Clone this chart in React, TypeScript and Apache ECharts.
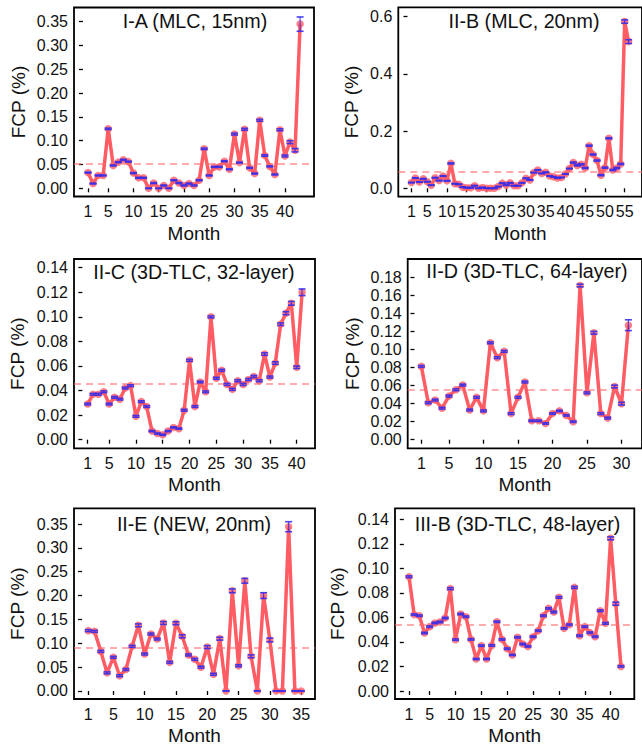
import React, { useEffect, useRef } from "react";
import * as echarts from "echarts";

// ---------------- data ----------------
const fcpIA = [0.033, 0.010, 0.027, 0.027, 0.125, 0.048, 0.055, 0.060, 0.056, 0.032,
  0.022, 0.022, 0.000, 0.011, 0.000, 0.006, 0.000, 0.017, 0.011, 0.006,
  0.010, 0.006, 0.017, 0.083, 0.027, 0.045, 0.045, 0.057, 0.040, 0.114,
  0.054, 0.124, 0.043, 0.031, 0.143, 0.069, 0.046, 0.029, 0.123, 0.068,
  0.097, 0.080, 0.345];
const errIA = [0.001, 0.001, 0.001, 0.001, 0.0015, 0.001, 0.001, 0.001, 0.001, 0.001,
  0.001, 0.001, 0.0005, 0.001, 0.0005, 0.001, 0.0005, 0.001, 0.001, 0.001,
  0.001, 0.001, 0.001, 0.0015, 0.001, 0.001, 0.001, 0.001, 0.001, 0.002,
  0.001, 0.002, 0.001, 0.001, 0.002, 0.0015, 0.001, 0.001, 0.002, 0.002,
  0.003, 0.0035, 0.015];
const meanIA = 0.0525;

const fcpIIB = [0.020, 0.036, 0.022, 0.033, 0.023, 0.011, 0.037, 0.027, 0.043, 0.026,
  0.087, 0.016, 0.014, 0.004, 0.002, 0.002, 0.009, 0.000, 0.003, 0.000,
  0.000, 0.000, 0.006, 0.018, 0.011, 0.019, 0.009, 0.009, 0.019, 0.035,
  0.029, 0.055, 0.064, 0.052, 0.056, 0.043, 0.040, 0.036, 0.038, 0.050,
  0.069, 0.090, 0.080, 0.084, 0.071, 0.149, 0.118, 0.097, 0.046, 0.072,
  0.175, 0.064, 0.071, 0.085, 0.583, 0.513];
const errIIB = [0.001, 0.001, 0.001, 0.001, 0.001, 0.001, 0.001, 0.001, 0.001, 0.001,
  0.002, 0.001, 0.001, 0.001, 0.001, 0.001, 0.001, 0.0005, 0.001, 0.0005,
  0.0005, 0.0005, 0.001, 0.001, 0.001, 0.001, 0.001, 0.001, 0.001, 0.001,
  0.001, 0.001, 0.001, 0.001, 0.001, 0.001, 0.001, 0.001, 0.001, 0.001,
  0.001, 0.002, 0.002, 0.002, 0.002, 0.002, 0.002, 0.002, 0.002, 0.002,
  0.002, 0.002, 0.002, 0.002, 0.006, 0.0065];
const meanIIB = 0.0594;

const fcpIIC = [0.029, 0.037, 0.037, 0.039, 0.029, 0.0345, 0.033, 0.042, 0.044, 0.019,
  0.031, 0.027, 0.007, 0.005, 0.004, 0.007, 0.010, 0.009, 0.024, 0.0646,
  0.027, 0.047, 0.039, 0.100, 0.050, 0.0565, 0.045, 0.041, 0.048, 0.045,
  0.049, 0.0515, 0.048, 0.0697, 0.051, 0.0624, 0.094, 0.103, 0.111, 0.059,
  0.120];
const errIIC = [0.0007, 0.0007, 0.0007, 0.0007, 0.0007, 0.0007, 0.0007, 0.0007, 0.0007, 0.0007,
  0.0007, 0.0007, 0.0005, 0.0005, 0.0005, 0.0005, 0.0005, 0.0005, 0.0007, 0.0008,
  0.0007, 0.0007, 0.0007, 0.0008, 0.0008, 0.0008, 0.0008, 0.0008, 0.0008, 0.0008,
  0.0008, 0.0008, 0.0008, 0.001, 0.0008, 0.001, 0.001, 0.0012, 0.0015, 0.001,
  0.0027];
const meanIIC = 0.0453;

const fcpIID = [0.0813, 0.041, 0.044, 0.035, 0.0484, 0.0554, 0.0606, 0.033, 0.047, 0.032,
  0.1075, 0.091, 0.098, 0.029, 0.047, 0.064, 0.021, 0.021, 0.018, 0.029,
  0.032, 0.027, 0.020, 0.171, 0.052, 0.1186, 0.029, 0.024, 0.059, 0.040,
  0.127];
const errIID = [0.001, 0.001, 0.001, 0.001, 0.001, 0.001, 0.001, 0.001, 0.001, 0.001,
  0.001, 0.001, 0.001, 0.001, 0.001, 0.001, 0.0008, 0.0008, 0.0008, 0.0008,
  0.0008, 0.0008, 0.0008, 0.0015, 0.001, 0.0015, 0.001, 0.001, 0.0015, 0.0015,
  0.006];
const meanIID = 0.0554;

const fcpIIE = [0.1265, 0.125, 0.083, 0.038, 0.0706, 0.032, 0.045, 0.0936, 0.1376, 0.0775,
  0.1195, 0.109, 0.1425, 0.060, 0.142, 0.1146, 0.0755, 0.0664, 0.050, 0.092,
  0.035, 0.1097, 0.000, 0.210, 0.053, 0.231, 0.0727, 0.000, 0.200, 0.107,
  0.000, 0.000, 0.3444, 0.000, 0.000];
const errIIE = [0.002, 0.002, 0.002, 0.002, 0.002, 0.002, 0.002, 0.002, 0.003, 0.002,
  0.002, 0.002, 0.003, 0.002, 0.003, 0.003, 0.002, 0.002, 0.002, 0.003,
  0.002, 0.003, 0.000, 0.004, 0.002, 0.005, 0.003, 0.000, 0.006, 0.004,
  0.000, 0.000, 0.0105, 0.000, 0.000];
const meanIIE = 0.0908;

const fcpIIIB = [0.0932, 0.0623, 0.0614, 0.0473, 0.0525, 0.0555, 0.0563, 0.0595, 0.0835, 0.0419,
  0.0628, 0.0606, 0.0421, 0.0261, 0.037, 0.0261, 0.0372, 0.0565, 0.0421, 0.0345,
  0.0294, 0.0438, 0.0383, 0.0364, 0.0443, 0.0492, 0.0614, 0.0674, 0.0644, 0.0764,
  0.0511, 0.0541, 0.0845, 0.0451, 0.0525, 0.0476, 0.0443, 0.0655, 0.0552, 0.1245,
  0.0712, 0.0201];
const errIIIB = [0.0007, 0.0006, 0.0006, 0.0006, 0.0006, 0.0006, 0.0006, 0.0006, 0.0008, 0.0006,
  0.0006, 0.0006, 0.0006, 0.0005, 0.0006, 0.0005, 0.0006, 0.0006, 0.0006, 0.0006,
  0.0005, 0.0006, 0.0006, 0.0006, 0.0006, 0.0006, 0.0006, 0.0006, 0.0007, 0.0007,
  0.0006, 0.0006, 0.0008, 0.0006, 0.0006, 0.0006, 0.0006, 0.0007, 0.0007, 0.0012,
  0.0012, 0.0006];
const meanIIIB = 0.0538;

const titles = [
  "I-A (MLC, 15nm)",
  "II-B (MLC, 20nm)",
  "II-C (3D-TLC, 32-layer)",
  "II-D (3D-TLC, 64-layer)",
  "II-E (NEW, 20nm)",
  "III-B (3D-TLC, 48-layer)",
];

const xTicksIA = [1, 5, 10, 15, 20, 25, 30, 35, 40];
const xTicksIIB = [1, 5, 10, 15, 20, 25, 30, 35, 40, 45, 50, 55];
const xTicksIIC = [1, 5, 10, 15, 20, 25, 30, 35, 40];
const xTicksIID = [1, 5, 10, 15, 20, 25, 30];
const xTicksIIE = [1, 5, 10, 15, 20, 25, 30, 35];
const xTicksIIIB = [1, 5, 10, 15, 20, 25, 30, 35, 40];

const yTicks035 = [0, 0.05, 0.1, 0.15, 0.2, 0.25, 0.3, 0.35];
const yTicks06 = [0, 0.2, 0.4, 0.6];
const yTicks014 = [0, 0.02, 0.04, 0.06, 0.08, 0.1, 0.12, 0.14];
const yTicks018 = [0, 0.02, 0.04, 0.06, 0.08, 0.1, 0.12, 0.14, 0.16, 0.18];

// ---------------- styling ----------------
const FONT = '"Liberation Sans", Arial, Helvetica, sans-serif';
const LINE_COLOR = "#ff5c64";
const POINT_COLOR = "rgba(255,95,105,0.8)";
const ERR_COLOR = "rgba(55,45,235,0.9)";
const MEAN_COLOR = "rgba(255,105,110,0.75)";

type Panel = {
  title: string;
  values: number[];
  errs: number[];
  mean: number;
  xTicks: number[];
  yTicks: number[];
  yDec: number;
  box: { left: number; top: number; width: number; height: number };
  xr: [number, number];
  yr: [number, number];
  titlePos: [number, number];
  yNameGap: number;
};

const panels: Panel[] = [
  {
    title: titles[0], values: fcpIA, errs: errIA, mean: meanIA,
    xTicks: xTicksIA, yTicks: yTicks035, yDec: 2,
    box: { left: 74, top: 7.5, width: 240, height: 189 },
    xr: [-1.772, 45.75], yr: [-0.0172, 0.3799],
    titlePos: [195, 21], yNameGap: 46,
  },
  {
    title: titles[1], values: fcpIIB, errs: errIIB, mean: meanIIB,
    xTicks: xTicksIIB, yTicks: yTicks06, yDec: 1,
    box: { left: 398.3, top: 7.3, width: 248.7, height: 189.4 },
    xr: [-2.325, 59.39], yr: [-0.0294, 0.6329],
    titlePos: [524, 21], yNameGap: 37,
  },
  {
    title: titles[2], values: fcpIIC, errs: errIIC, mean: meanIIC,
    xTicks: xTicksIIC, yTicks: yTicks014, yDec: 2,
    box: { left: 74, top: 259, width: 241, height: 189.3 },
    xr: [-1.556, 43.41], yr: [-0.007, 0.1471],
    titlePos: [194, 271.5], yNameGap: 47,
  },
  {
    title: titles[3], values: fcpIID, errs: errIID, mean: meanIID,
    xTicks: xTicksIID, yTicks: yTicks018, yDec: 2,
    box: { left: 407.7, top: 259, width: 240, height: 189.3 },
    xr: [-0.98, 32.97], yr: [-0.0095, 0.2004],
    titlePos: [527, 271], yNameGap: 46,
  },
  {
    title: titles[4], values: fcpIIE, errs: errIIE, mean: meanIIE,
    xTicks: xTicksIIE, yTicks: yTicks035, yDec: 2,
    box: { left: 74, top: 508.3, width: 241, height: 190.7 },
    xr: [-1.284, 37.21], yr: [-0.0168, 0.383],
    titlePos: [194, 524], yNameGap: 47,
  },
  {
    title: titles[5], values: fcpIIIB, errs: errIIIB, mean: meanIIIB,
    xTicks: xTicksIIIB, yTicks: yTicks014, yDec: 2,
    box: { left: 395, top: 508.3, width: 239.3, height: 190.7 },
    xr: [-1.708, 44.58], yr: [-0.0065, 0.149],
    titlePos: [517.5, 523.5], yNameGap: 48,
  },
];

function buildOption() {
  const grid: any[] = [];
  const xAxis: any[] = [];
  const yAxis: any[] = [];
  const series: any[] = [];
  const graphic: any[] = [];

  panels.forEach((p, i) => {
    grid.push({
      left: p.box.left, top: p.box.top, width: p.box.width, height: p.box.height,
      show: true, borderColor: "#000", borderWidth: 1.8, backgroundColor: "transparent",
      containLabel: false,
    });
    xAxis.push({
      gridIndex: i, type: "value", min: p.xr[0], max: p.xr[1],
      axisLine: { show: false },
      splitLine: { show: false },
      axisTick: { show: true, length: 4, lineStyle: { color: "#000", width: 1.3 }, customValues: p.xTicks },
      axisLabel: { customValues: p.xTicks, color: "#111", fontSize: 16, fontFamily: FONT, margin: 7 },
      name: "Month", nameLocation: "middle", nameGap: 27,
      nameTextStyle: { color: "#111", fontSize: 19, fontFamily: FONT },
    });
    yAxis.push({
      gridIndex: i, type: "value", min: p.yr[0], max: p.yr[1],
      axisLine: { show: false },
      splitLine: { show: false },
      axisTick: { show: true, length: 4, lineStyle: { color: "#000", width: 1.3 }, customValues: p.yTicks },
      axisLabel: {
        customValues: p.yTicks, color: "#111", fontSize: 16, fontFamily: FONT, margin: 6,
        formatter: (v: number) => v.toFixed(p.yDec),
      },
      name: "FCP (%)", nameLocation: "middle", nameGap: p.yNameGap, nameRotate: 90,
      nameTextStyle: { color: "#111", fontSize: 19, fontFamily: FONT },
    });
    series.push({
      type: "line", xAxisIndex: i, yAxisIndex: i,
      data: p.values.map((v, k) => [k + 1, v]),
      lineStyle: { color: LINE_COLOR, width: 3.5 },
      showSymbol: true, symbol: "circle", symbolSize: 7.5,
      itemStyle: { color: POINT_COLOR, borderWidth: 0 },
      z: 3,
      markLine: {
        silent: true, symbol: ["none", "none"], label: { show: false },
        precision: 6,
        lineStyle: { color: MEAN_COLOR, type: [7, 5], width: 1.6 },
        data: [{ yAxis: p.mean }],
        animation: false,
      },
    });
    series.push({
      type: "custom", xAxisIndex: i, yAxisIndex: i,
      data: p.values.map((v, k) => [k + 1, v - p.errs[k], v + p.errs[k]]),
      encode: { x: 0, y: [1, 2] },
      z: 5,
      renderItem: (params: any, api: any) => {
        const x = api.value(0);
        const lo = api.coord([x, api.value(1)]);
        const hi = api.coord([x, api.value(2)]);
        const hw = 3.5;
        const st = { stroke: ERR_COLOR, lineWidth: 1.6 };
        return {
          type: "group",
          children: [
            { type: "line", shape: { x1: lo[0], y1: lo[1], x2: hi[0], y2: hi[1] }, style: { stroke: ERR_COLOR, lineWidth: 1.1 } },
            { type: "line", shape: { x1: lo[0] - hw, y1: lo[1], x2: lo[0] + hw, y2: lo[1] }, style: st },
            { type: "line", shape: { x1: hi[0] - hw, y1: hi[1], x2: hi[0] + hw, y2: hi[1] }, style: st },
          ],
        };
      },
    });
    graphic.push({
      type: "text", x: p.titlePos[0], y: p.titlePos[1], z: 10,
      style: {
        text: p.title, fill: "#111", font: `19.7px ${FONT}`,
        align: "center", verticalAlign: "middle",
        textAlign: "center", textVerticalAlign: "middle",
      },
    });
  });

  return {
    animation: false,
    backgroundColor: "#fff",
    grid, xAxis, yAxis, series, graphic,
  };
}

export default function App() {
  const ref = useRef<HTMLDivElement>(null);
  useEffect(() => {
    if (!ref.current) return;
    const chart = echarts.init(ref.current, undefined, { renderer: "svg" });
    chart.setOption(buildOption() as any);
    return () => chart.dispose();
  }, []);
  return (
    <div
      ref={ref}
      style={{ position: "fixed", left: 0, top: 0, width: 642, height: 747, background: "#fff" }}
    />
  );
}
